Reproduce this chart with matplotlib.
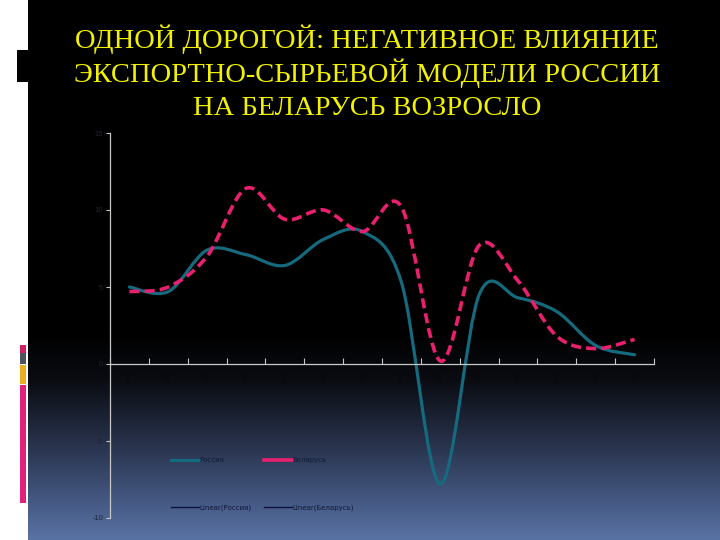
import numpy as np
import matplotlib.pyplot as plt
from matplotlib.path import Path
from matplotlib.patches import PathPatch, Rectangle
from matplotlib.lines import Line2D

# Data (GDP growth, %)
years = [str(y) for y in range(2001, 2015)]
russia = [5.0, 4.7, 7.4, 7.1, 6.4, 8.1, 8.6, 5.3, -7.8, 4.5, 4.3, 3.4, 1.2, 0.6]
belarus = [4.7, 5.0, 7.0, 11.4, 9.4, 10.0, 8.6, 10.2, 0.2, 7.7, 5.4, 1.8, 1.0, 1.6]
y_ticks = [-10, -5, 0, 5, 10, 15]

title_lines = ["ОДНОЙ ДОРОГОЙ: НЕГАТИВНОЕ ВЛИЯНИЕ",
               "ЭКСПОРТНО-СЫРЬЕВОЙ МОДЕЛИ РОССИИ",
               "НА БЕЛАРУСЬ ВОЗРОСЛО"]

teal = "#156a7e"
pink = "#e8206e"


def smooth_path(xs, ys):
    # Excel-style smoothed line: cubic Bezier through the points
    pts = np.column_stack([xs, ys]).astype(float)
    n = len(pts)
    verts = [pts[0]]
    codes = [Path.MOVETO]
    for i in range(n - 1):
        p0 = pts[i - 1] if i > 0 else pts[i]
        p1 = pts[i]
        p2 = pts[i + 1]
        p3 = pts[i + 2] if i + 2 < n else pts[i + 1]
        c1 = p1 + (p2 - p0) / 6
        c2 = p2 - (p3 - p1) / 6
        verts += [c1, c2, p2]
        codes += [Path.CURVE4] * 3
    return Path(verts, codes)


fig = plt.figure(figsize=(7.2, 5.4), dpi=100)
W, H = 720, 540

# slide background: black fading to blue-grey at the bottom
rows = np.arange(H)
keys_y = [0, 330, 380, 440, 500, 540]
keys_c = np.array([[0, 0, 0], [0, 0, 0], [10, 12, 18], [38, 48, 72],
                   [68, 88, 130], [90, 115, 165]]) / 255
grad = np.stack([np.interp(rows, keys_y, keys_c[:, k]) for k in range(3)], axis=-1)
grad = grad[:, None, :]
bg = fig.add_axes([0, 0, 1, 1], zorder=-5)
bg.imshow(grad, extent=[0, 1, 0, 1], aspect="auto")
bg.set_xlim(0, 1)
bg.set_ylim(0, 1)
bg.axis("off")


# left strip decorations
def frect(x, y, w, h, c):
    bg.add_patch(Rectangle((x / W, 1 - (y + h) / H), w / W, h / H, color=c, lw=0))


frect(0, 0, 28, 540, "white")
frect(17, 50, 11, 32, "black")
frect(20, 345, 6, 8, "#d02068")
frect(20, 353, 6, 11, "#4e545e")
frect(20, 365, 6, 19, "#e8b020")
frect(20, 385, 6, 118, "#e0207a")

for line, base in zip(title_lines, [48, 82, 115]):
    fig.text(367 / W, 1 - base / H, line, ha="center", va="baseline",
             color="#f2f200", fontsize=20.5, family="Liberation Serif")

ax = fig.add_axes([110 / W, 1 - 518 / H, 544 / W, 385 / H])
ax.set_facecolor("none")
for s in ["top", "right"]:
    ax.spines[s].set_visible(False)
ax.spines["bottom"].set_position(("data", 0))
for s in ["left", "bottom"]:
    ax.spines[s].set_color("#c8c8c8")
    ax.spines[s].set_linewidth(0.9)

x = np.arange(len(years))
ax.add_patch(PathPatch(smooth_path(x, russia), fill=False, edgecolor=teal,
                       lw=2.3, capstyle="round", joinstyle="round"))
ax.add_patch(PathPatch(smooth_path(x, belarus), fill=False, edgecolor=pink,
                       lw=2.6, linestyle=(0, (2.8, 1.4)), capstyle="butt"))

ax.set_xlim(-0.5, len(years) - 0.5)
ax.set_ylim(-10, 15)
ax.set_yticks(y_ticks)
ax.set_yticklabels([str(v) for v in y_ticks], fontsize=5.5,
                   color="#1c2434", family="Liberation Sans")
ax.set_xticks(x)
ax.set_xticklabels(years, rotation=90, fontsize=4.5, color="#080808")
ax.set_xticks(np.arange(-0.5, len(years)), minor=True)
ax.tick_params(axis="x", which="major", length=0, pad=3)
ax.tick_params(axis="x", which="minor", length=4, direction="in",
               color="#c8c8c8", width=0.8)
ax.tick_params(axis="y", length=3, direction="out", color="#c8c8c8",
               width=0.8, pad=2)

handles = [
    Line2D([], [], color=teal, lw=2.3),
    Line2D([], [], color="#0c1040", lw=1),
    Line2D([], [], color=pink, lw=2.6),
    Line2D([], [], color="#0c1040", lw=1),
]
labels = ["Россия", "Linear(Россия)", "Беларусь", "Linear(Беларусь)"]
ax.legend(handles, labels, ncol=2, loc="upper left",
          bbox_to_anchor=(165 / W, 1 - 451 / H), bbox_transform=fig.transFigure,
          frameon=False, fontsize=5, labelcolor="#101838",
          handlelength=4.0, handletextpad=0.1, columnspacing=1.8,
          labelspacing=6.0)

fig.savefig("out.png", dpi=100)
